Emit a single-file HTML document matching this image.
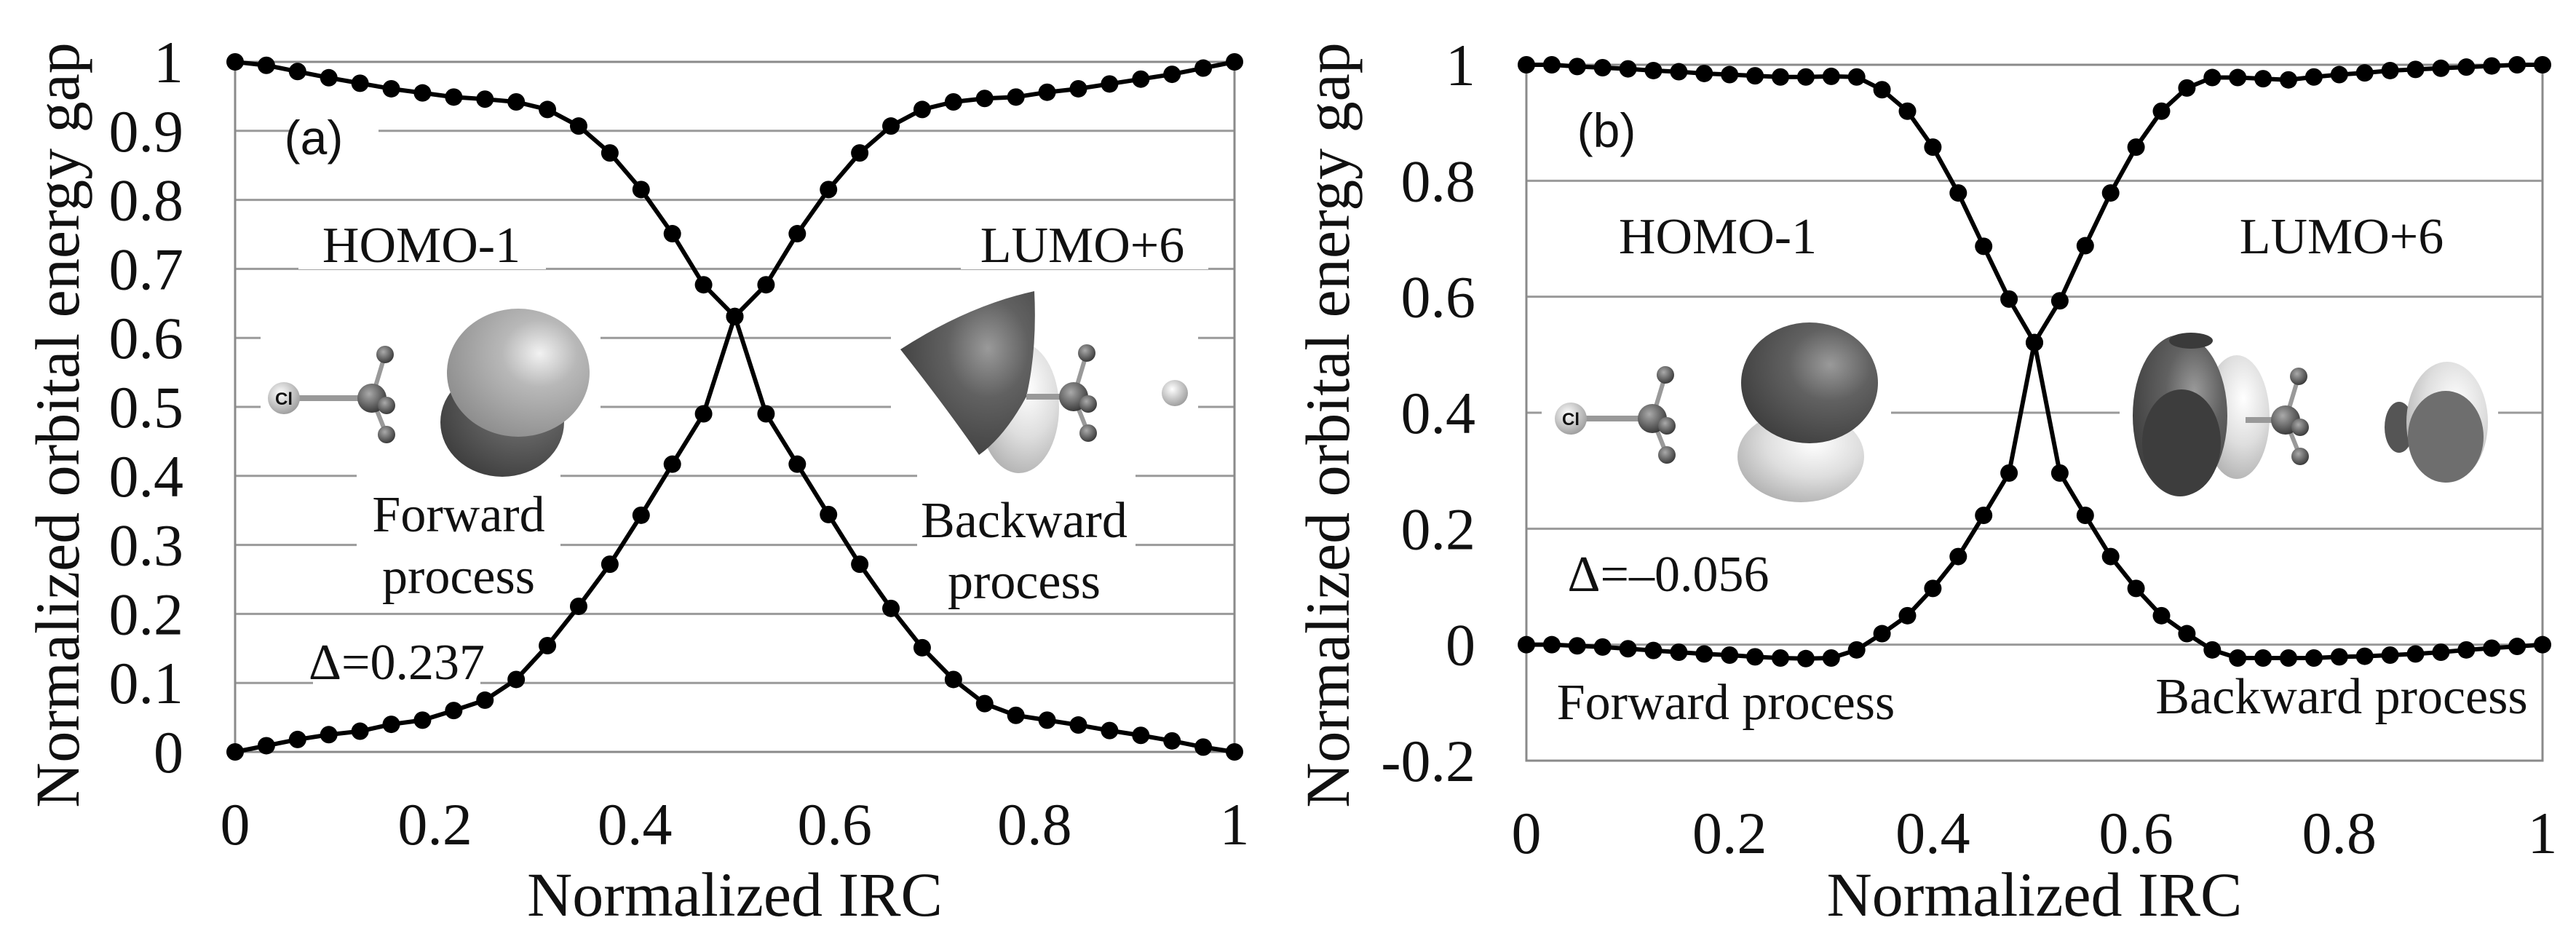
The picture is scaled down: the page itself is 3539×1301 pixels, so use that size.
<!DOCTYPE html>
<html><head><meta charset="utf-8">
<style>
html,body{margin:0;padding:0;background:#fff;}
svg{display:block;}
text{font-family:"Liberation Serif",serif;fill:#111;}
.sans{font-family:"Liberation Sans",sans-serif;}
</style></head>
<body>
<svg id="fig" width="3539" height="1301" viewBox="0 0 3539 1301" xmlns="http://www.w3.org/2000/svg">
<defs>
<radialGradient id="gLight" cx="0.65" cy="0.35" r="0.75"><stop offset="0" stop-color="#f2f2f2"/><stop offset="0.35" stop-color="#b8b8b8"/><stop offset="1" stop-color="#8a8a8a"/></radialGradient>
<radialGradient id="gDark" cx="0.65" cy="0.35" r="0.75"><stop offset="0" stop-color="#9a9a9a"/><stop offset="0.4" stop-color="#616161"/><stop offset="1" stop-color="#3c3c3c"/></radialGradient>
<radialGradient id="gWhite" cx="0.6" cy="0.35" r="0.75"><stop offset="0" stop-color="#ffffff"/><stop offset="0.5" stop-color="#dedede"/><stop offset="1" stop-color="#aaaaaa"/></radialGradient>
<radialGradient id="gAtom" cx="0.4" cy="0.35" r="0.7"><stop offset="0" stop-color="#fff"/><stop offset="1" stop-color="#999"/></radialGradient>
<radialGradient id="gC" cx="0.4" cy="0.35" r="0.7"><stop offset="0" stop-color="#aaa"/><stop offset="1" stop-color="#333"/></radialGradient>
</defs>
<g id="panelA"></g>
<g id="panelB"></g>
</svg>
<script>
// Panel (a) data
const xA = [];
for (let i = 0; i <= 32; i++) xA.push(i / 32);
const aDecreasing = [1,0.995,0.986,0.977,0.969,0.961,0.955,0.949,0.946,0.942,0.931,0.907,0.868,0.815,0.751,0.677,0.631,
  0.49,0.417,0.344,0.272,0.208,0.151,0.105,0.07,0.053,0.046,0.039,0.031,0.024,0.016,0.007,0];
const aIncreasing = [0,0.009,0.018,0.025,0.03,0.04,0.046,0.06,0.075,0.105,0.154,0.211,0.272,0.343,0.417,0.49,0.631,
  0.677,0.751,0.815,0.868,0.907,0.931,0.942,0.947,0.949,0.956,0.961,0.968,0.975,0.982,0.991,1];
const aYTicks = [0,0.1,0.2,0.3,0.4,0.5,0.6,0.7,0.8,0.9,1];
const aYLabels = ["0","0.1","0.2","0.3","0.4","0.5","0.6","0.7","0.8","0.9","1"];
// Panel (b) data
const xB = [];
for (let i = 0; i <= 40; i++) xB.push(i / 40);
const bDecreasing = [1,1,0.997,0.995,0.993,0.99,0.988,0.985,0.983,0.981,0.979,0.979,0.98,0.979,0.957,0.92,0.858,0.779,0.687,0.596,0.521,
  0.296,0.223,0.152,0.097,0.05,0.019,-0.009,-0.023,-0.023,-0.023,-0.023,-0.021,-0.02,-0.018,-0.016,-0.013,-0.009,-0.006,-0.003,0];
const bIncreasing = [0,0,-0.002,-0.004,-0.007,-0.01,-0.013,-0.016,-0.018,-0.021,-0.023,-0.024,-0.023,-0.009,0.019,0.05,0.097,0.152,0.223,0.296,0.521,
  0.593,0.688,0.779,0.858,0.92,0.96,0.978,0.978,0.976,0.974,0.979,0.983,0.986,0.99,0.992,0.994,0.996,0.998,1,1];
const bYTicks = [-0.2,0,0.2,0.4,0.6,0.8,1];
const bYLabels = ["-0.2","0","0.2","0.4","0.6","0.8","1"];
const xTicks = [0,0.2,0.4,0.6,0.8,1];
const xLabels = ["0","0.2","0.4","0.6","0.8","1"];

const NS = "http://www.w3.org/2000/svg";
function mk(parent, tag, attrs, txt) {
  const e = document.createElementNS(NS, tag);
  for (const k in attrs) e.setAttribute(k, attrs[k]);
  if (txt !== undefined) e.textContent = txt;
  parent.appendChild(e);
  return e;
}

function drawPanel(g, cfg) {
  const sx = v => cfg.x0 + (cfg.x1 - cfg.x0) * v;
  const sy = v => cfg.yB + (cfg.yT - cfg.yB) * (v - cfg.ymin) / (cfg.ymax - cfg.ymin);
  cfg.yTicks.forEach((t, i) => {
    const l = mk(g, "line", {x1: sx(0), x2: sx(1), y1: sy(t), y2: sy(t), stroke: "#9a9a9a", "stroke-width": 3});
    
    
    const tx = mk(g, "text", {x: cfg.tickX, y: sy(t) + 28, "text-anchor": "end", "font-size": 82}, cfg.yLabels[i]);
    
    
  });
  const fr = mk(g, "rect", {x: sx(0), y: sy(cfg.ymax), width: sx(1) - sx(0), height: sy(cfg.ymin) - sy(cfg.ymax), fill: "none", stroke: "#8a8a8a", "stroke-width": 3});
  
  
  xTicks.forEach((t, i) => {
    const tx = mk(g, "text", {x: sx(t), y: cfg.xTickY, "text-anchor": "middle", "font-size": 82}, xLabels[i]);
    
    
  });
  cfg.boxes.forEach(b => {
    const r = mk(g, "rect", {x: b[0], y: b[1], width: b[2], height: b[3], fill: "#fff"});
    
    
  });
  cfg.art(g);
  [cfg.s1, cfg.s2].forEach((s, k) => {
    const pts = s.map((v, i) => sx(cfg.xs[i]) + "," + sy(v)).join(" ");
    const pl = mk(g, "polyline", {points: pts, fill: "none", stroke: "#000", "stroke-width": 6, "stroke-linejoin": "round"});
    
    
    s.forEach((v, i) => {
      const c = mk(g, "circle", {cx: sx(cfg.xs[i]), cy: sy(v), r: 12, fill: "#000"});
      
      
    });
  });
  cfg.texts.forEach(t => {
    const tx = mk(g, "text", {x: t[1], y: t[2], "text-anchor": "middle", "font-size": t[3], class: t[5] || ""}, t[4]);
    
    
  });
  const yt = mk(g, "text", {x: 0, y: 0, "text-anchor": "middle", "font-size": 86, transform: `translate(${cfg.yTitleX},${cfg.yTitleY}) rotate(-90)`}, "Normalized orbital energy gap");
  
  
  const xt = mk(g, "text", {x: (sx(0) + sx(1)) / 2, y: 1258, "text-anchor": "middle", "font-size": 86}, "Normalized IRC");
  
  
}

function molecule(g, cx, cy, clx, name, withCl) {
  const m = mk(g, "g", {});
  
  
  mk(m, "line", {x1: clx, y1: cy, x2: cx, y2: cy, stroke: "#999", "stroke-width": 8});
  mk(m, "line", {x1: cx, y1: cy, x2: cx + 18, y2: cy - 60, stroke: "#999", "stroke-width": 6});
  mk(m, "line", {x1: cx, y1: cy, x2: cx + 20, y2: cy + 50, stroke: "#999", "stroke-width": 6});
  if (withCl) {
    mk(m, "circle", {cx: clx, cy: cy, r: 22, fill: "url(#gAtom)"});
    mk(m, "text", {x: clx, y: cy + 9, "text-anchor": "middle", "font-size": 24, class: "sans", "font-weight": "bold"}, "Cl");
  }
  mk(m, "circle", {cx: cx, cy: cy, r: 20, fill: "url(#gC)"});
  [[18, -60], [20, 10], [20, 50]].forEach(d => mk(m, "circle", {cx: cx + d[0], cy: cy + d[1], r: 12, fill: "url(#gC)"}));
}

drawPanel(document.getElementById("panelA"), {
  x0: 323, x1: 1696, yT: 85, yB: 1033, ymin: 0, ymax: 1,
  xs: xA, s1: aDecreasing, s2: aIncreasing, yTicks: aYTicks, yLabels: aYLabels,
  tickX: 252, xTickY: 1160, yTitleX: 108, yTitleY: 584,
  boxes: [[358,430,467,220],[1224,400,422,250],[410,280,340,90],[1320,280,340,90],[490,650,280,190],[1260,650,300,190],[430,860,230,90],[400,140,120,100]],
  art: g => {
    molecule(g, 511, 547, 390, 'homo-molecule-a', true);
    const o = mk(g, "g", {});  
    mk(o, "ellipse", {cx: 690, cy: 580, rx: 85, ry: 75, fill: "url(#gDark)"});
    mk(o, "ellipse", {cx: 712, cy: 512, rx: 98, ry: 88, fill: "url(#gLight)"});
    const l = mk(g, "g", {});  
    mk(l, "ellipse", {cx: 1400, cy: 560, rx: 55, ry: 90, fill: "url(#gWhite)"});
    mk(l, "path", {d: "M1237,480 Q1330,420 1421,400 Q1425,480 1410,545 Q1380,600 1345,625 Q1300,560 1237,480 Z", fill: "url(#gDark)"});
    molecule(g, 1475, 545, 1410, 'lumo-molecule-a', false);
    const cl = mk(g, "circle", {cx: 1614, cy: 540, r: 18, fill: "url(#gAtom)"});
     
  },
  texts: [["panel-label-a",431,212,66,"(a)","sans"],["homo-label",579,360,70,"HOMO-1"],["lumo-label",1487,360,70,"LUMO+6"],
    ["forward-label",630,730,70,"Forward"],["forward-label-2",630,815,70,"process"],["backward-label",1407,738,70,"Backward"],
    ["backward-label-2",1407,822,70,"process"],["delta-label",545,933,70,"\u0394=0.237"]]
});

drawPanel(document.getElementById("panelB"), {
  x0: 2097, x1: 3493, yT: 89, yB: 1045, ymin: -0.2, ymax: 1,
  xs: xB, s1: bDecreasing, s2: bIncreasing, yTicks: bYTicks, yLabels: bYLabels,
  tickX: 2027, xTickY: 1172, yTitleX: 1853, yTitleY: 584,
  boxes: [[2118,440,480,260],[2912,440,520,260],[2190,280,350,85],[3040,280,350,85],[2140,745,320,85],[2110,915,520,95],[2940,905,540,95],[2170,140,100,90]],
  art: g => {
    molecule(g, 2270, 575, 2158, 'homo-molecule-b', true);
    const o = mk(g, "g", {});  
    mk(o, "ellipse", {cx: 2474, cy: 627, rx: 87, ry: 63, fill: "url(#gWhite)"});
    mk(o, "ellipse", {cx: 2486, cy: 526, rx: 94, ry: 83, fill: "url(#gDark)"});
    const l = mk(g, "g", {});  
    mk(l, "ellipse", {cx: 3073, cy: 573, rx: 45, ry: 85, fill: "url(#gWhite)"});
    mk(l, "ellipse", {cx: 2995, cy: 571, rx: 65, ry: 111, fill: "url(#gDark)"});
    mk(l, "ellipse", {cx: 3010, cy: 468, rx: 30, ry: 11, fill: "#3a3a3a"});
    mk(l, "ellipse", {cx: 2997, cy: 608, rx: 54, ry: 73, fill: "#3d3d3d"});
    molecule(g, 3140, 577, 3085, 'lumo-molecule-b', false);
    const r = mk(g, "g", {});  
    mk(r, "ellipse", {cx: 3296, cy: 587, rx: 20, ry: 35, fill: "#555"});
    mk(r, "ellipse", {cx: 3362, cy: 580, rx: 56, ry: 83, fill: "url(#gWhite)"});
    mk(r, "ellipse", {cx: 3360, cy: 600, rx: 52, ry: 63, fill: "#6e6e6e"});
  },
  texts: [["panel-label-b",2207,202,66,"(b)","sans"],["homo-label",2360,348,70,"HOMO-1"],["lumo-label",3217,348,70,"LUMO+6"],
    ["delta-label",2292,812,70,"\u0394=\u20130.056"],["forward-label",2371,988,70,"Forward process"],["backward-label",3217,980,70,"Backward process"]]
});
</script>
</body></html>
